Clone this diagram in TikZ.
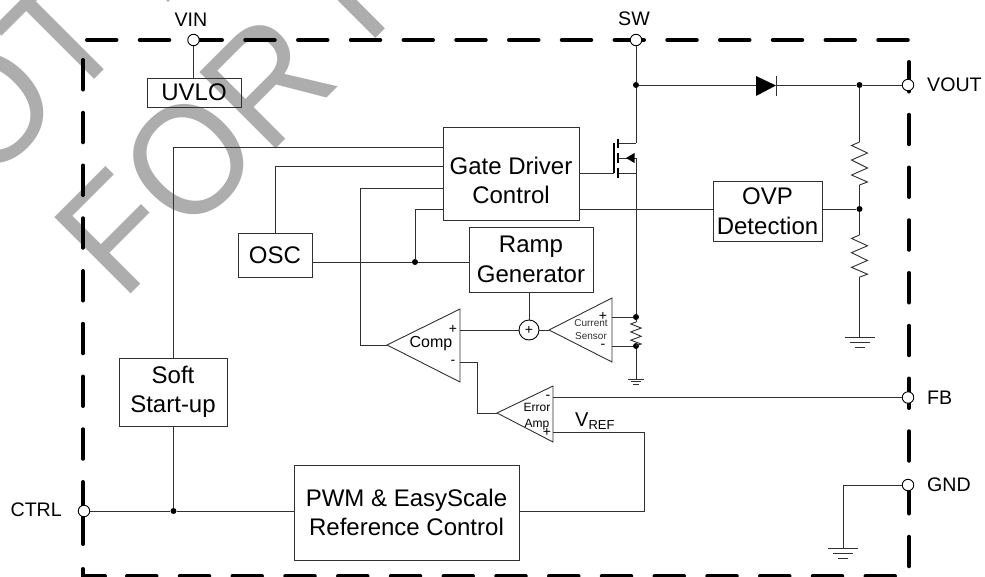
\documentclass[tikz,border=0pt]{standalone}
\usepackage{fontspec}
\usepackage{tikz}
\setmainfont{Liberation Sans}
\definecolor{markgray}{HTML}{ADADAD}
\definecolor{wiregray}{HTML}{303030}
\tikzset{
  box/.style={draw=wiregray,line width=0.9pt,inner sep=0pt,align=center,font=\fontsize{24}{29.5}\selectfont},
  pin/.style={draw=black,fill=white,circle,line width=0.9pt,inner sep=0pt,minimum size=11.5pt},
  pinlabel/.style={inner sep=0pt,font=\fontsize{19.6}{22}\selectfont},
  dotmark/.style={fill=black,circle,inner sep=0pt,minimum size=6pt},
  sign/.style={inner sep=0pt,font=\fontsize{14}{14}\selectfont},
  wire/.style={line width=0.9pt,draw=wiregray},
  watermark/.style={rotate=45,inner sep=0pt,text=markgray,font=\fontsize{148}{148}\selectfont},
  frameline/.style={line width=4pt,line cap=round,dash pattern=on 29.5pt off 23.25pt},
  zigzag/.pic={
    \coordinate (-top) at (0,0);
    \coordinate (-bot) at (0,43);
    \draw [wire] (0,0) -- (-8,3.5) -- (8,11) -- (-8,18) -- (8,26) -- (-8,33) -- (8,40) -- (0,43);
  },
  gndbars/.pic={
    \draw [wire] (-15,0) -- (15,0);
    \draw [wire] (-10,5) -- (10,5);
    \draw [wire] (-5,10) -- (5,10);
  }
}
\begin{document}
\begin{tikzpicture}[x=1pt,y=-1pt]
    \useasboundingbox (0,0) rectangle (985,576);
    \clip (0,0) rectangle (985,576);
    % watermark
    \node [watermark,anchor=base east] (marknot) at (132,42) {\scalebox{1}[1.06]{NOT}};
    \node [watermark,anchor=base west] (markfor) at (122,303) {\scalebox{1}[1.06]{FOR}};
    \draw [markgray,line width=13.5pt] (300,-47) to (380,33);
    \draw [markgray,line width=13.5pt] (150,-26) to (172.8,-2.8);
    % frame
    \draw [frameline] (87,40) to (909,40);
    \draw [frameline] (83,60) to (83,465);
    \draw [line width=4pt,line cap=round] (83,482) to (83,544);
    \draw [line width=4pt,line cap=round] (83,569) -- (83,576) -- (105,576);
    \draw [frameline] (127,576) to (909,576);
    \draw [frameline] (909,62) to (909,572);
    % pins
    \node [pin] (vin) at (193.5,40) {};
    \node [pin] (sw) at (636,40) {};
    \node [pin] (vout) at (908,85) {};
    \node [pin] (fb) at (908,397.5) {};
    \node [pin] (gnd) at (908,485) {};
    \node [pin] (ctrl) at (84,511) {};
    \node [pinlabel] (vinlabel) at (191,20) {VIN};
    \node [pinlabel] (swlabel) at (634,19) {SW};
    \node [pinlabel,anchor=west] (voutlabel) at (927,85) {VOUT};
    \node [pinlabel,anchor=west] (fblabel) at (927,398) {FB};
    \node [pinlabel,anchor=west] (gndlabel) at (927,485) {GND};
    \node [pinlabel,anchor=east] (ctrllabel) at (62,510) {CTRL};
    % blocks
    \node [box,minimum width=94pt,minimum height=29pt] (uvlo) at (194,92.5) {UVLO};
    \node [box,minimum width=136pt,minimum height=93pt] (gate) at (511,173.5) {};
    \node [inner sep=0pt,align=center,font=\fontsize{24}{29.5}\selectfont] (gatelabel) at (511,180.5) {Gate Driver\\Control};
    \node [box,minimum width=74pt,minimum height=44pt] (osc) at (275,255) {OSC};
    \node [box,minimum width=124pt,minimum height=65pt] (ramp) at (531,259.5) {Ramp\\Generator};
    \node [box,minimum width=109pt,minimum height=60pt] (ovp) at (767.5,211) {OVP\\Detection};
    \node [box,minimum width=108pt,minimum height=68pt] (soft) at (173,392) {Soft\\Start-up};
    \node [box,minimum width=225pt,minimum height=95pt] (pwm) at (406.5,512.5) {PWM \& EasyScale\\Reference Control};
    % junctions
    \node [dotmark] (dsw) at (636,85) {};
    \node [dotmark] (dout) at (859.5,85) {};
    \node [dotmark] (dovp) at (859.5,209) {};
    \node [dotmark] (dctrl) at (173.5,511) {};
    \node [dotmark] (dosc) at (415,262) {};
    \node [dotmark] (dsa) at (636,317) {};
    \node [dotmark] (dsb) at (636,346) {};
    \coordinate (gatea) at (443,147);
    \coordinate (gateb) at (443,166);
    \coordinate (gatec) at (443,188);
    \coordinate (gated) at (443,209);
    % diode
    \coordinate (dioa) at (756,85);
    \coordinate (diob) at (776,85);
    \fill (756,76) -- (776,85.5) -- (756,96) -- cycle;
    \draw [wire] (776,76) to (776,96);
    \draw [wire] (sw) to (dsw);
    \draw [wire] (dsw) to (dioa);
    \draw [wire] (diob) to (dout);
    \draw [wire] (dout) to (vout);
    % divider
    \pic (rtop) at (859.5,142) {zigzag};
    \pic (rbot) [yscale=0.98] at (859.5,235) {zigzag};
    \coordinate (gndr) at (859.5,337);
    \pic at (gndr) {gndbars};
    \draw [wire] (dout) to (rtop-top);
    \draw [wire] (rtop-bot) to (dovp);
    \draw [wire] (dovp) to (rbot-top);
    \draw [wire] (rbot-bot) to (gndr);
    \draw [wire] (ovp.east |- dovp) to (dovp);
    % mosfet
    \coordinate (drain) at (636,143);
    \coordinate (src) at (636,158);
    \coordinate (body) at (636,173);
    \coordinate (gatept) at (614,173);
    \draw [wire] (dsw) to (drain);
    \draw [wire] (drain) to (618,143);
    \draw [wire] (src) to (618,158);
    \draw [wire] (body) to (618,173);
    \draw [wire] (src) to (dsa);
    \draw [line width=1.2pt] (618,138.5) to (618,148);
    \draw [line width=1.2pt] (618,153) to (618,163);
    \draw [line width=1.2pt] (618,168) to (618,177.5);
    \draw [line width=1.2pt] (614,143) to (614,173);
    \fill (626,158) -- (634.5,153) -- (634.5,163) -- cycle;
    \draw [wire] (gate.east |- gatept) to (gatept);
    \draw [wire] (gate.east |- dovp) to (ovp.west |- dovp);
    % wires into the gate driver
    \draw [wire] (vin) to (uvlo.north -| vin);
    \draw [wire] (soft.north -| dctrl) |- (gatea);
    \draw [wire] (osc.north) |- (gateb);
    \draw [wire] (dosc) |- (gated);
    \draw [wire] (osc.east |- dosc) to (dosc);
    \draw [wire] (dosc) to (ramp.west |- dosc);
    \draw [wire] (ctrl) to (dctrl);
    \draw [wire] (dctrl) to (pwm.west |- dctrl);
    \draw [wire] (soft.south -| dctrl) to (dctrl);
    % comparator
    \coordinate (comptip) at (387,345);
    \draw [wire,fill=white] (comptip) -- (460,309) -- (460,382) -- cycle;
    \node [inner sep=0pt,font=\fontsize{16}{16}\selectfont] (complabel) at (431,344) {Comp};
    \node [sign] (compplus) at (453,329) {+};
    \node [sign] (compminus) at (453,362) {-};
    \draw [wire] (gatec) -| (360.5,345) to (comptip);
    % adder
    \node [draw=black,line width=0.9pt,circle,inner sep=0pt,minimum size=20pt,font=\fontsize{14}{14}\selectfont] (adder) at (529,330) {+};
    \draw [wire] (ramp.south -| adder) to (adder);
    \draw [wire] (460,330) to (adder);
    % current sensor
    \coordinate (sensetip) at (549,330);
    \draw [wire,fill=white] (sensetip) -- (612,298) -- (612,362) -- cycle;
    \node [inner sep=0pt,text=wiregray,align=center,font=\fontsize{10}{13}\selectfont] (senselabel) at (591,329.5) {Current\\Sensor};
    \node [sign] (senseplus) at (603,316) {+};
    \node [sign] (senseminus) at (603,346) {-};
    \draw [wire] (adder) to (sensetip);
    \draw [wire] (612,317) to (dsa);
    \draw [wire] (612,346) to (dsb);
    \pic (rsense) [xscale=0.65,yscale=0.55] at (636,322) {zigzag};
    \coordinate (gndsense) at (636,379);
    \pic [scale=0.52] at (gndsense) {gndbars};
    \draw [wire] (dsa) to (rsense-top);
    \draw [wire] (rsense-bot) to (dsb);
    \draw [wire] (dsb) to (gndsense);
    % error amp
    \coordinate (amptip) at (497,413);
    \draw [wire,fill=white] (amptip) -- (553,386) -- (553,442) -- cycle;
    \node [inner sep=0pt,align=center,font=\fontsize{12}{16}\selectfont] (amplabel) at (537,417) {Error\\Amp};
    \node [sign] (ampminus) at (548,397) {-};
    \node [sign] (ampplus) at (547,432) {+};
    \draw [wire] (460,362) -| (477,413) to (amptip);
    \draw [wire] (553,397.5) to (fb);
    \draw [wire] (553,432) -| (644,511) to (pwm.east |- dctrl);
    \node [inner sep=0pt,anchor=base west,font=\fontsize{20}{20}\selectfont] (vref) at (575,426) {V\raisebox{-3pt}{\fontsize{13}{13}\selectfont REF}};
    % ground pin
    \coordinate (gndb) at (843,548);
    \pic at (gndb) {gndbars};
    \draw [wire] (gnd) -| (gndb);
\end{tikzpicture}
\end{document}
